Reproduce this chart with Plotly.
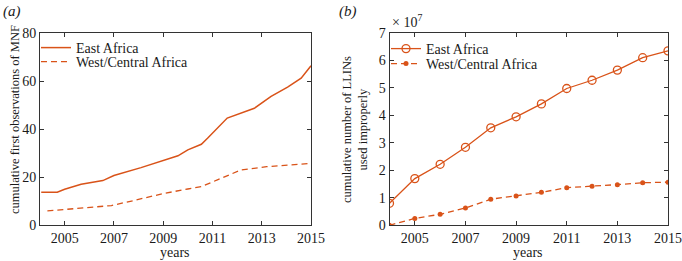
import plotly.graph_objects as go

# Panel (a): cumulative first observations of MNF
east_mnf_years = [2004.05, 2004.7, 2005.0, 2005.67, 2006.55, 2007.0, 2008.1, 2009.05, 2009.6,
                  2010.0, 2010.55, 2010.8, 2011.07, 2011.2, 2011.6, 2012.7, 2013.38, 2014.05,
                  2014.6, 2015.0]
east_mnf = [13.7, 13.8, 15.0, 17.1, 18.6, 20.7, 24.0, 26.9, 28.9,
            31.4, 33.7, 36.2, 39.0, 40.5, 44.6, 48.7, 53.6, 57.5,
            61.2, 66.4]
west_mnf_years = [2004.3, 2005.1, 2006.9, 2007.8, 2009.05, 2010.0, 2010.55, 2011.2, 2012.15,
                  2013.2, 2014.9]
west_mnf = [6.0, 6.7, 8.2, 10.3, 13.3, 15.1, 16.1, 18.9, 23.0, 24.4, 25.7]

# Panel (b): cumulative number of LLINs used improperly
llin_years = [2004, 2005, 2006, 2007, 2008, 2009, 2010, 2011, 2012, 2013, 2014, 2015]
east_llin = [0.80e7, 1.70e7, 2.22e7, 2.84e7, 3.55e7, 3.95e7, 4.42e7, 4.98e7, 5.28e7, 5.65e7, 6.10e7, 6.35e7]
west_llin = [0.0, 0.25e7, 0.40e7, 0.63e7, 0.95e7, 1.07e7, 1.20e7, 1.37e7, 1.42e7, 1.48e7, 1.55e7, 1.57e7]
scale = 1e7

year_ticks = [2005, 2007, 2009, 2011, 2013, 2015]
mnf_ticks = [0, 20, 40, 60, 80]
llin_ticks = [0, 1, 2, 3, 4, 5, 6, 7]

C = "#D95319"
FONT = "Liberation Serif"
TXT = "#1a1a1a"
FS = 14
W, H = 682, 261

fig = go.Figure()
fig.add_trace(go.Scatter(x=east_mnf_years, y=east_mnf, mode="lines", name="East Africa",
                         line=dict(color=C, width=1.5), xaxis="x", yaxis="y", legend="legend"))
fig.add_trace(go.Scatter(x=west_mnf_years, y=west_mnf, mode="lines", name="West/Central Africa",
                         line=dict(color=C, width=1.3, dash="6px,4px"), xaxis="x", yaxis="y",
                         legend="legend2"))
fig.add_trace(go.Scatter(x=llin_years, y=[v / scale for v in east_llin], mode="lines+markers",
                         name="East Africa", line=dict(color=C, width=1.3),
                         marker=dict(symbol="circle-open", size=8, color=C, line=dict(width=1.3)),
                         xaxis="x2", yaxis="y2", legend="legend3"))
fig.add_trace(go.Scatter(x=llin_years, y=[v / scale for v in west_llin], mode="lines+markers",
                         name="West/Central Africa", line=dict(color=C, width=1.3, dash="6px,4px"),
                         marker=dict(symbol="circle", size=5, color=C),
                         xaxis="x2", yaxis="y2", legend="legend4"))

def px(x):
    return x / W

def py(y):
    return 1 - y / H

axis_common = dict(showline=True, linecolor="#333333", linewidth=1, mirror="allticks",
                   ticks="inside", ticklen=4, tickcolor="#333333", showgrid=False, zeroline=False,
                   automargin=False,
                   tickfont=dict(family=FONT, size=FS, color=TXT))

legend_common = dict(xanchor="left", yanchor="middle", bgcolor="rgba(0,0,0,0)",
                     font=dict(family=FONT, size=FS, color=TXT), tracegroupgap=0,
                     itemwidth=30, xref="paper", yref="paper")

def txt(text, x, y, xanchor="center", yanchor="middle", angle=0, size=FS, align="center"):
    return dict(text=text, x=px(x), y=py(y), xref="paper", yref="paper", xanchor=xanchor,
                yanchor=yanchor, textangle=angle, showarrow=False, align=align,
                font=dict(family=FONT, size=size, color=TXT))

fig.update_layout(
    width=W, height=H, margin=dict(l=0, r=0, t=0, b=0, autoexpand=False),
    paper_bgcolor="white", plot_bgcolor="white",
    font=dict(family=FONT, size=FS, color=TXT),
    xaxis=dict(domain=[px(40), px(311)], range=[2004, 2015], tickvals=year_ticks,
               anchor="y", **axis_common),
    yaxis=dict(domain=[py(225.3), py(33)], range=[0, 80], tickvals=mnf_ticks,
               anchor="x", **axis_common),
    xaxis2=dict(domain=[px(389.5), px(668)], range=[2004, 2015], tickvals=year_ticks,
                anchor="y2", **axis_common),
    yaxis2=dict(domain=[py(225.3), py(33)], range=[0, 7], tickvals=llin_ticks,
                anchor="x2", **axis_common),
    legend=dict(x=px(36), y=py(48), **legend_common),
    legend2=dict(x=px(36), y=py(62), **legend_common),
    legend3=dict(x=px(386), y=py(49), **legend_common),
    legend4=dict(x=px(386), y=py(64), **legend_common),
    showlegend=True,
    annotations=[
        txt("<i>(a)</i>", 1, 1, "left", "top", size=15),
        txt("<i>(b)</i>", 337, 1, "left", "top", size=15),
        txt("× 10<sup>7</sup>", 390, 32, "left", "bottom"),
        txt("years", 175, 252),
        txt("years", 528, 252),
        txt("cumulative first observations of MNF", 15, 120, angle=-90, size=12.5),
        txt("cumulative number of LLINs<br>used improperly", 355, 130, angle=-90, size=12.5),
    ],
)

fig.write_html("out.html", config={"displayModeBar": False},
               post_script="document.body.style.margin='0';document.body.style.padding='0';")
